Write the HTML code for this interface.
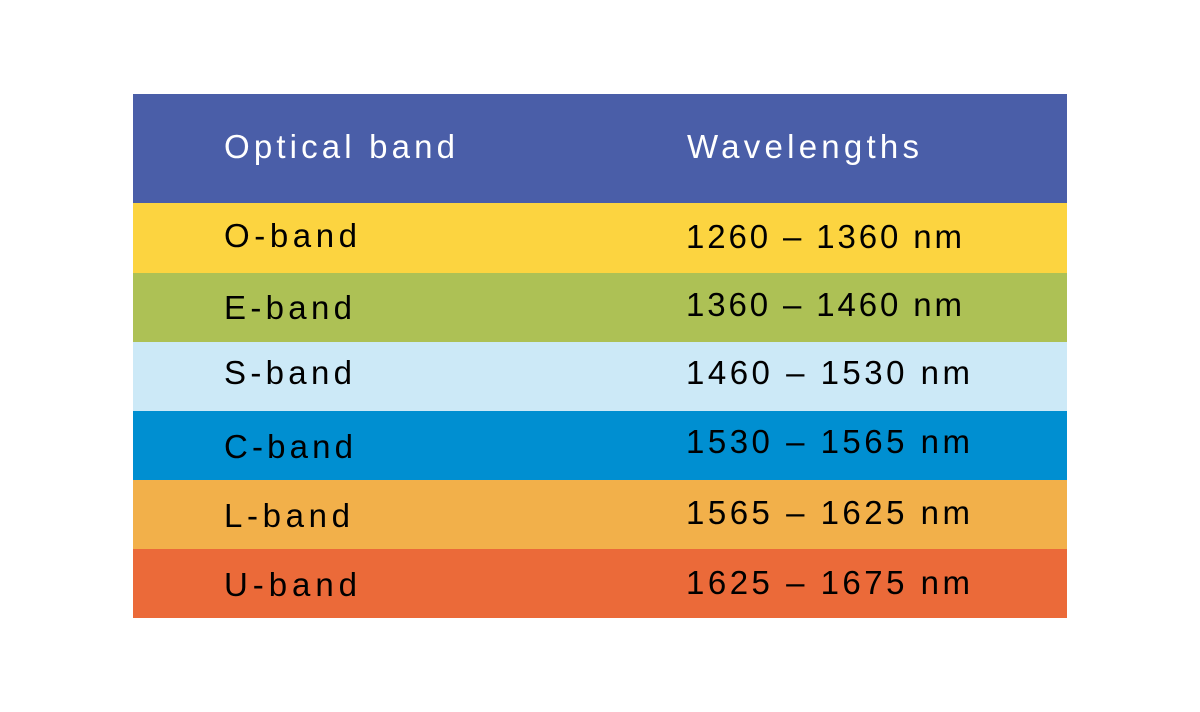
<!DOCTYPE html>
<html><head><meta charset="utf-8"><style>
html,body{margin:0;padding:0;background:#fff;width:1200px;height:712px;overflow:hidden}
svg text{font-family:"Liberation Sans",sans-serif;font-size:33px}
</style></head><body>
<svg width="1200" height="712">
<rect x="133" y="94" width="934" height="109" fill="#4a5ea8"/>
<text x="224" y="158" fill="#fff" textLength="231">Optical band</text>
<text x="687" y="158" fill="#fff" textLength="232">Wavelengths</text>
<g><rect x="133" y="203" width="934" height="70" fill="#fcd440"/>
<text x="224" y="247" fill="#000" textLength="133">O-band</text><text x="686" y="248" fill="#000" textLength="276">1260 – 1360 nm</text></g>
<g><rect x="133" y="273" width="934" height="69" fill="#adc155"/>
<text x="224" y="319" fill="#000" textLength="128">E-band</text><text x="686" y="316" fill="#000" textLength="276">1360 – 1460 nm</text></g>
<g><rect x="133" y="342" width="934" height="69" fill="#cce9f7"/>
<text x="224" y="384" fill="#000" textLength="128">S-band</text><text x="686" y="384" fill="#000" textLength="284">1460 – 1530  nm</text></g>
<g><rect x="133" y="411" width="934" height="69" fill="#008fd1"/>
<text x="224" y="458" fill="#000" textLength="129">C-band</text><text x="686" y="453" fill="#000" textLength="284">1530 – 1565  nm</text></g>
<g><rect x="133" y="480" width="934" height="69" fill="#f2b04a"/>
<text x="224" y="527" fill="#000" textLength="126">L-band</text><text x="686" y="524" fill="#000" textLength="284">1565 – 1625  nm</text></g>
<g><rect x="133" y="549" width="934" height="69" fill="#eb6a39"/>
<text x="224" y="596" fill="#000" textLength="133">U-band</text><text x="686" y="594" fill="#000" textLength="284">1625 – 1675  nm</text></g>
</svg>
</body></html>
